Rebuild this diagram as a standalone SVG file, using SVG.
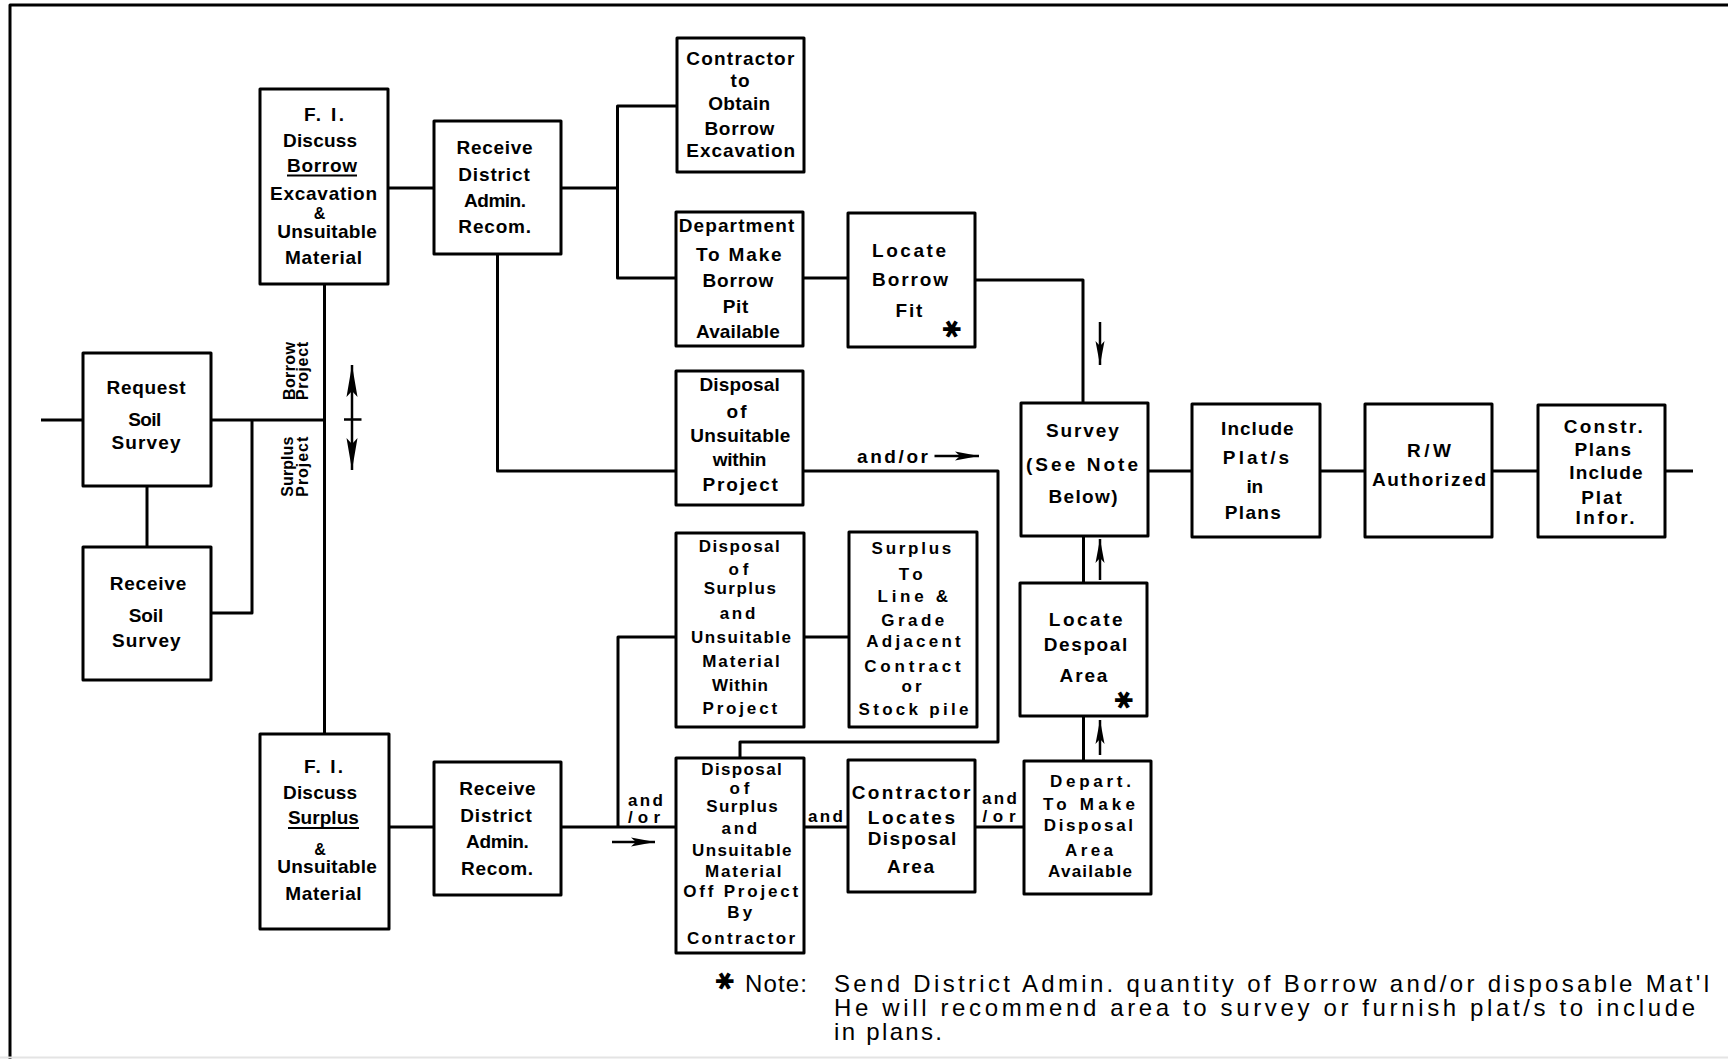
<svg xmlns="http://www.w3.org/2000/svg" width="1728" height="1059" viewBox="0 0 1728 1059">
<style>
.b{fill:#fff;stroke:#000;stroke-width:3;stroke-linejoin:round}
.c{fill:none;stroke:#000;stroke-width:3;stroke-linejoin:round}
.a{fill:none;stroke:#000;stroke-width:2.5}
.t{font-family:"Liberation Sans",Arial,sans-serif;font-weight:bold;font-size:19px;text-anchor:middle;fill:#000}
.d{font-size:17px}
.s{font-family:"Liberation Sans",Arial,sans-serif;font-weight:bold;font-size:16px;fill:#000}
.n{font-family:"Liberation Sans",Arial,sans-serif;font-size:24px;fill:#000}
.k{font-family:"DejaVu Sans",sans-serif;font-weight:bold;font-size:24px;text-anchor:middle;fill:#000}
</style>
<defs>
<marker id="ah" viewBox="0 0 24 10" refX="24" refY="5" markerWidth="24" markerHeight="10" markerUnits="userSpaceOnUse" orient="auto"><path d="M0,0.5 L24,5 L0,9.5 L5,5 Z" fill="#000"/></marker>
<marker id="ahL" viewBox="0 0 32 12" refX="32" refY="6" markerWidth="32" markerHeight="12" markerUnits="userSpaceOnUse" orient="auto-start-reverse"><path d="M0,0.5 L32,6 L0,11.5 L6,6 Z" fill="#000"/></marker>
</defs>
<rect width="1728" height="1059" fill="#fff"/>
<g id="frame">
<path class="c" d="M10,1059 V5 H1728"/>
<path d="M0,1057.5 H1728" stroke="#e4e4e4" stroke-width="2"/>
</g>
<g id="connectors">
<path class="c" d="M41,420 H83"/>
<path class="c" d="M211,420 H324.5"/>
<path class="c" d="M324.5,284 V734"/>
<path class="c" d="M147,486 V547"/>
<path class="c" d="M211,613 H252 V420"/>
<path class="c" d="M388,188 H434"/>
<path class="c" d="M561,188 H617.5"/>
<path class="c" d="M677,106 H617.5 V278 H676"/>
<path class="c" d="M803,278 H848"/>
<path class="c" d="M975,280 H1083 V403"/>
<path class="c" d="M497.5,254 V471 H676"/>
<path class="c" d="M803,471 H998 V742 H740 V758"/>
<path class="c" d="M1148,471 H1192"/>
<path class="c" d="M1320,471 H1365"/>
<path class="c" d="M1492,471 H1538"/>
<path class="c" d="M1665,471 H1693"/>
<path class="c" d="M389,827 H434"/>
<path class="c" d="M561,827 H676"/>
<path class="c" d="M618,827 V637 H676"/>
<path class="c" d="M804,637 H849"/>
<path class="c" d="M804,827 H848"/>
<path class="c" d="M975,827 H1024"/>
<path class="c" d="M1083.5,761 V716"/>
<path class="c" d="M1083.5,583 V536"/>
<path class="a" d="M352,365 V470" marker-start="url(#ahL)" marker-end="url(#ahL)"/>
<path class="a" d="M344,419.5 H361.5"/>
<path class="a" d="M1100,322 V365" marker-end="url(#ah)"/>
<path class="a" d="M1100,580 V539" marker-end="url(#ah)"/>
<path class="a" d="M1100,755 V720" marker-end="url(#ah)"/>
<path class="a" d="M934.5,456 H979" marker-end="url(#ah)"/>
<path class="a" d="M612,842 H655" marker-end="url(#ah)"/>
<text class="t" x="892.5" y="463" textLength="71">and/or</text>
<text class="t d" x="645.5" y="806" textLength="35">and</text>
<text class="t d" x="644" y="823.3" textLength="32">/or</text>
<text class="t d" x="825.5" y="822.3" textLength="35">and</text>
<text class="t d" x="999.4" y="804" textLength="35">and</text>
<text class="t d" x="999" y="822.3" textLength="33">/or</text>
<text class="s" transform="translate(295,400) rotate(-90)" textLength="58">Borrow</text>
<text class="s" transform="translate(308,400) rotate(-90)" textLength="58">Project</text>
<text class="s" transform="translate(293,496.7) rotate(-90)" textLength="60">Surplus</text>
<text class="s" transform="translate(308,496.7) rotate(-90)" textLength="60">Project</text>
</g>
<g id="fi-borrow">
<rect class="b" x="260" y="89" width="128" height="195"/>
<text class="t" x="324" y="121" textLength="40">F. I.</text>
<text class="t" x="320" y="147" textLength="74">Discuss</text>
<text class="t" x="322" y="172" textLength="70">Borrow</text>
<path d="M287,175.5 H357" stroke="#000" stroke-width="2"/>
<text class="t" x="319.5" y="219" style="font-size:16px">&amp;</text>
<text class="t" x="323.5" y="199.5" textLength="107">Excavation</text>
<text class="t" x="327" y="238" textLength="99.5">Unsuitable</text>
<text class="t" x="323.5" y="264" textLength="77">Material</text>
</g>
<g id="receive-top">
<rect class="b" x="434" y="121" width="127" height="133"/>
<text class="t" x="494.6" y="154" textLength="76">Receive</text>
<text class="t" x="494" y="180.6" textLength="71.5">District</text>
<text class="t" x="495" y="206.6" textLength="62">Admin.</text>
<text class="t" x="494.7" y="233" textLength="72.7">Recom.</text>
</g>
<g id="request">
<rect class="b" x="83" y="353" width="128" height="133"/>
<text class="t" x="146" y="394" textLength="79">Request</text>
<text class="t" x="144.7" y="426" textLength="33">Soil</text>
<text class="t" x="146" y="449" textLength="69">Survey</text>
</g>
<g id="receive-soil">
<rect class="b" x="83" y="547" width="128" height="133"/>
<text class="t" x="148" y="589.7" textLength="76.5">Receive</text>
<text class="t" x="146" y="622" textLength="34.4">Soil</text>
<text class="t" x="146.3" y="647" textLength="68.5">Survey</text>
</g>
<g id="fi-surplus">
<rect class="b" x="260" y="734" width="129" height="195"/>
<text class="t" x="323.5" y="772.5" textLength="39">F. I.</text>
<text class="t" x="320" y="799" textLength="74">Discuss</text>
<text class="t" x="323.4" y="824" textLength="71">Surplus</text>
<path d="M288,828 H359" stroke="#000" stroke-width="2"/>
<text class="t" x="320" y="855" style="font-size:16px">&amp;</text>
<text class="t" x="327" y="873" textLength="99.5">Unsuitable</text>
<text class="t" x="323.4" y="900" textLength="76.5">Material</text>
</g>
<g id="receive-bottom">
<rect class="b" x="434" y="762" width="127" height="133"/>
<text class="t" x="497.4" y="794.6" textLength="76.5">Receive</text>
<text class="t" x="496" y="821.6" textLength="71.6">District</text>
<text class="t" x="497.5" y="848" textLength="62.8">Admin.</text>
<text class="t" x="497" y="874.5" textLength="72">Recom.</text>
</g>
<g id="contractor-obtain">
<rect class="b" x="677" y="38" width="127" height="134"/>
<text class="t" x="740.3" y="65" textLength="108">Contractor</text>
<text class="t" x="740" y="86.7" textLength="19">to</text>
<text class="t" x="739.2" y="110" textLength="62">Obtain</text>
<text class="t" x="739.4" y="135" textLength="70">Borrow</text>
<text class="t" x="740.7" y="156.7" textLength="108.7">Excavation</text>
</g>
<g id="dept-borrow">
<rect class="b" x="676" y="212" width="127" height="134"/>
<text class="t" x="736.5" y="232" textLength="115.6">Department</text>
<text class="t" x="738.8" y="260.7" textLength="85.7">To Make</text>
<text class="t" x="737.8" y="287" textLength="70.8">Borrow</text>
<text class="t" x="735.5" y="313" textLength="25.6">Pit</text>
<text class="t" x="737.9" y="338" textLength="83.8">Available</text>
</g>
<g id="locate-borrow">
<rect class="b" x="848" y="213" width="127" height="134"/>
<text class="t" x="909" y="256.7" textLength="74">Locate</text>
<text class="t" x="910" y="286" textLength="76">Borrow</text>
<text class="t" x="909" y="316.7" textLength="26.8">Fit</text>
<text class="k" transform="translate(951,329) rotate(90)" dy="8">✱</text>
</g>
<g id="disposal-unsuitable">
<rect class="b" x="676" y="371" width="127" height="134"/>
<text class="t" x="739.6" y="391" textLength="80.4">Disposal</text>
<text class="t" x="736.5" y="418" textLength="20">of</text>
<text class="t" x="740.3" y="441.7" textLength="100">Unsuitable</text>
<text class="t" x="739.6" y="466" textLength="53.6">within</text>
<text class="t" x="740.2" y="491" textLength="75.4">Project</text>
</g>
<g id="survey">
<rect class="b" x="1021" y="403" width="127" height="133"/>
<text class="t" x="1082.4" y="437" textLength="72.7">Survey</text>
<text class="t" x="1082" y="471" textLength="112">(See Note</text>
<text class="t" x="1083" y="503" textLength="69">Below)</text>
</g>
<g id="include-plats">
<rect class="b" x="1192" y="404" width="128" height="133"/>
<text class="t" x="1257.4" y="435" textLength="72.6">Include</text>
<text class="t" x="1256" y="464" textLength="66.3">Plat/s</text>
<text class="t" x="1254.8" y="493" textLength="16.6">in</text>
<text class="t" x="1252.8" y="518.6" textLength="56">Plans</text>
</g>
<g id="rw-authorized">
<rect class="b" x="1365" y="404" width="127" height="133"/>
<text class="t" x="1429" y="457" textLength="44">R/W</text>
<text class="t" x="1429" y="485.7" textLength="114">Authorized</text>
</g>
<g id="constr-plans">
<rect class="b" x="1538" y="405" width="127" height="132"/>
<text class="t" x="1603.2" y="433" textLength="79">Constr.</text>
<text class="t" x="1602.8" y="456.4" textLength="56.4">Plans</text>
<text class="t" x="1606" y="478.6" textLength="73.3">Include</text>
<text class="t" x="1601.5" y="503.6" textLength="40.5">Plat</text>
<text class="t" x="1605" y="524" textLength="59">Infor.</text>
</g>
<g id="disposal-within">
<rect class="b" x="676" y="533" width="128" height="194"/>
<text class="t d" x="739.2" y="552" textLength="81">Disposal</text>
<text class="t d" x="738.5" y="575" textLength="20">of</text>
<text class="t d" x="739.8" y="594" textLength="72.3">Surplus</text>
<text class="t d" x="737.5" y="619" textLength="35.6">and</text>
<text class="t d" x="741" y="642.5" textLength="100">Unsuitable</text>
<text class="t d" x="741" y="667" textLength="77.3">Material</text>
<text class="t d" x="740" y="691" textLength="56">Within</text>
<text class="t d" x="739.8" y="714" textLength="74.6">Project</text>
</g>
<g id="surplus-line-grade">
<rect class="b" x="849" y="532" width="128" height="195"/>
<text class="t d" x="911.4" y="554" textLength="79.6">Surplus</text>
<text class="t d" x="910.7" y="580" textLength="23.7">To</text>
<text class="t d" x="912.8" y="601.9" textLength="70.4">Line &amp;</text>
<text class="t d" x="912.8" y="625.9" textLength="63">Grade</text>
<text class="t d" x="913.5" y="647" textLength="94.5">Adjacent</text>
<text class="t d" x="912.5" y="672" textLength="96.4">Contract</text>
<text class="t d" x="911.6" y="692" textLength="20">or</text>
<text class="t d" x="913.5" y="715" textLength="109.8">Stock pile</text>
</g>
<g id="disposal-off-project">
<rect class="b" x="676" y="758" width="128" height="195"/>
<text class="t d" x="741.5" y="775" textLength="80.4">Disposal</text>
<text class="t d" x="739.4" y="794" textLength="20">of</text>
<text class="t d" x="742" y="812" textLength="71.6">Surplus</text>
<text class="t d" x="739.4" y="834" textLength="35.6">and</text>
<text class="t d" x="741.8" y="855.5" textLength="99.5">Unsuitable</text>
<text class="t d" x="743.3" y="876.5" textLength="76.5">Material</text>
<text class="t d" x="740.7" y="897" textLength="114.8">Off Project</text>
<text class="t d" x="739.7" y="918" textLength="25">By</text>
<text class="t d" x="741" y="944" textLength="108">Contractor</text>
</g>
<g id="contractor-locates">
<rect class="b" x="848" y="760" width="127" height="132"/>
<text class="t" x="911" y="799.4" textLength="118.6">Contractor</text>
<text class="t" x="911.4" y="824" textLength="87.3">Locates</text>
<text class="t" x="912" y="845" textLength="88.4">Disposal</text>
<text class="t" x="910.5" y="873.3" textLength="47">Area</text>
</g>
<g id="depart-disposal">
<rect class="b" x="1024" y="761" width="127" height="133"/>
<text class="t d" x="1090.5" y="787" textLength="81">Depart.</text>
<text class="t d" x="1089" y="810" textLength="92">To Make</text>
<text class="t d" x="1088.4" y="831" textLength="89.2">Disposal</text>
<text class="t d" x="1089" y="856" textLength="47.8">Area</text>
<text class="t d" x="1090" y="877" textLength="83.8">Available</text>
</g>
<g id="locate-despoal">
<rect class="b" x="1020" y="583" width="127" height="133"/>
<text class="t" x="1085.7" y="625.9" textLength="73.9">Locate</text>
<text class="t" x="1085.5" y="651" textLength="83.4">Despoal</text>
<text class="t" x="1083.5" y="682.4" textLength="47.8">Area</text>
<text class="k" transform="translate(1123,700) rotate(90)" dy="8">✱</text>
</g>
<g id="note">
<text class="k" transform="translate(724,981) rotate(90)" dy="8">✱</text>
<text class="n" x="745" y="991.5" textLength="62">Note:</text>
<text class="n" x="834" y="991.5" textLength="875">Send District Admin. quantity of Borrow and/or disposable Mat'l</text>
<text class="n" x="834" y="1015.5" textLength="861">He will recommend area to survey or furnish plat/s to include</text>
<text class="n" x="834" y="1039.5" textLength="108">in plans.</text>
</g>
</svg>
